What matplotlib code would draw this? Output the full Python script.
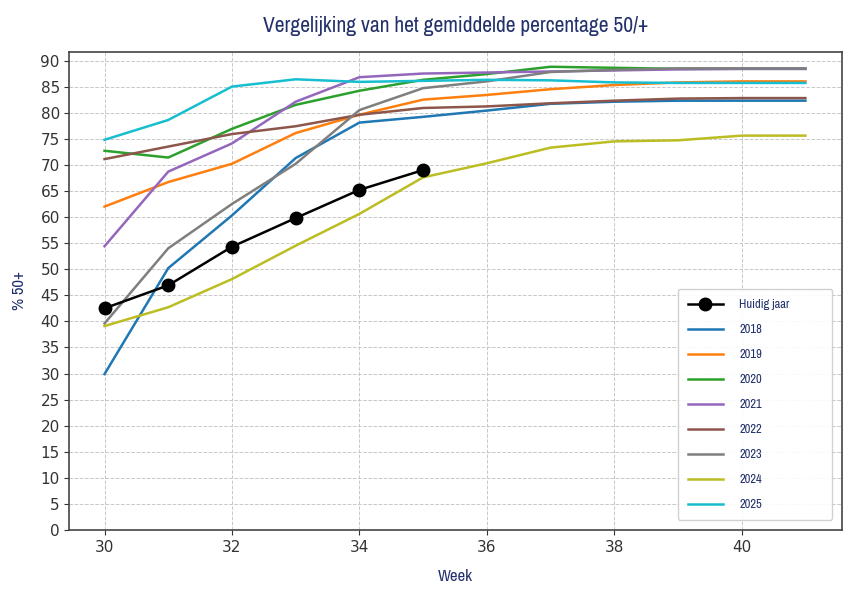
import matplotlib
matplotlib.use('Agg')
import matplotlib.pyplot as plt
import numpy as np

weeks = np.arange(30, 42)
huidig_weeks = np.arange(30, 36)
huidig = [42.5, 46.9, 54.3, 59.8, 65.2, 69.0]

y2018 = [29.9, 50.2, 60.3, 71.3, 78.1, 79.2, 80.4, 81.7, 82.1, 82.3, 82.3, 82.3]
y2019 = [62.0, 66.7, 70.2, 76.1, 79.6, 82.5, 83.4, 84.5, 85.3, 85.8, 86.0, 86.0]
y2020 = [72.7, 71.4, 76.9, 81.5, 84.2, 86.3, 87.4, 88.8, 88.6, 88.4, 88.4, 88.4]
y2021 = [54.4, 68.7, 74.1, 82.1, 86.8, 87.5, 87.7, 87.9, 88.1, 88.3, 88.4, 88.4]
y2022 = [71.1, 73.5, 75.9, 77.4, 79.6, 80.9, 81.2, 81.8, 82.3, 82.7, 82.8, 82.8]
y2023 = [39.6, 54.0, 62.5, 70.2, 80.5, 84.7, 86.0, 87.8, 88.2, 88.5, 88.5, 88.5]
y2024 = [39.1, 42.7, 48.1, 54.5, 60.6, 67.6, 70.3, 73.3, 74.5, 74.7, 75.6, 75.6]
y2025 = [74.8, 78.6, 85.0, 86.4, 85.9, 86.1, 86.3, 86.2, 85.8, 85.7, 85.7, 85.7]

years = ['2018', '2019', '2020', '2021', '2022', '2023', '2024', '2025']
series = [y2018, y2019, y2020, y2021, y2022, y2023, y2024, y2025]
colors = ['#1f77b4', '#ff7f0e', '#2ca02c', '#9467bd', '#8c564b', '#7f7f7f', '#bcbd22', '#17becf']

navy = '#22306b'
cond = ['Archivo Narrow', 'Liberation Sans Narrow', 'DejaVu Sans']  # narrow font for the texts

fig = plt.figure(figsize=(8.58, 6.04), dpi=100)
ax = fig.add_axes([0.081, 0.1225, 0.9, 0.792])

ax.plot(huidig_weeks, huidig, '-o', color='black', lw=1.8, ms=9, label='Huidig jaar', zorder=5)
for yr, vals, c in zip(years, series, colors):
    ax.plot(weeks, vals, lw=1.8, color=c, label=yr)

ax.set_xlim(29.45, 41.57)
ax.set_ylim(0, 91.7)
ax.set_yticks(np.arange(0, 91, 5))
ax.grid(True, linestyle='--', color='#c8c8c8', lw=0.7)
ax.tick_params(labelsize=11, colors='#333333', labelcolor='#333333')
for s in ax.spines.values():
    s.set_color('#444444')
    s.set_linewidth(1.2)

ax.set_title('Vergelijking van het gemiddelde percentage 50/+', family=cond, fontsize=15.5,
             color=navy, pad=14)
ax.set_xlabel('Week', family=cond, fontsize=12, color=navy, labelpad=10)
ax.set_ylabel('% 50+', family=cond, fontsize=12, color=navy, labelpad=10)

leg = ax.legend(loc='lower left', bbox_to_anchor=(0.788, 0.021, 0.2, 0.47), mode='expand',
                prop={'family': cond, 'size': 9}, labelspacing=1.12, handlelength=2.8,
                handletextpad=1.3, borderpad=0.8, borderaxespad=0, fancybox=True, framealpha=0.9)
for t in leg.get_texts():
    t.set_color(navy)

fig.savefig('out.png', dpi=100)
